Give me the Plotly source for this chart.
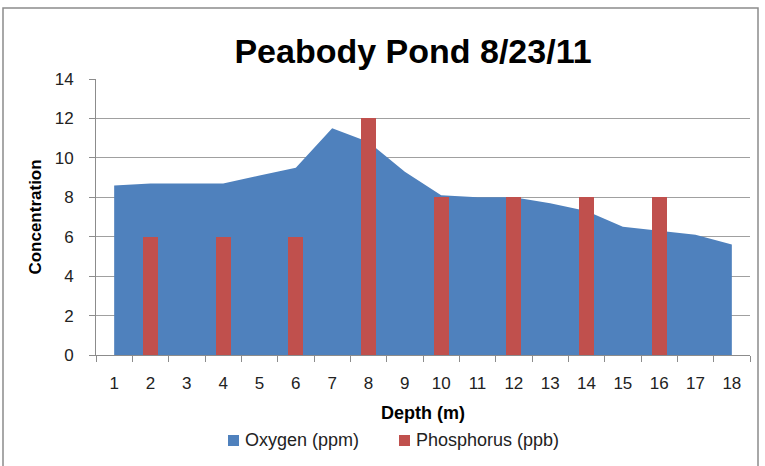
import plotly.graph_objects as go

depth = list(range(1, 19))
oxygen = [8.6, 8.7, 8.7, 8.7, 9.1, 9.5, 11.5, 10.8, 9.3, 8.1, 8.0, 8.0, 7.7, 7.3, 6.5, 6.3, 6.1, 5.6]
phos_depth = [2, 4, 6, 8, 10, 12, 14, 16]
phosphorus = [6, 6, 6, 12, 8, 8, 8, 8]
y_ticks = [0, 2, 4, 6, 8, 10, 12, 14]

BLUE = "#4F81BD"
RED = "#C0504D"
FONT = "Liberation Sans, Arial, sans-serif"

W, H = 765, 466
L, R, T, B = 96, 750, 79, 355

def px(x):
    return (x - L) / (R - L)

def py(y):
    return (B - y) / (B - T)

fig = go.Figure()
fig.add_trace(go.Scatter(x=depth, y=oxygen, fill="tozeroy", mode="lines",
                         line=dict(width=0, color=BLUE), fillcolor=BLUE,
                         name="Oxygen (ppm)", xaxis="x", yaxis="y"))
fig.add_trace(go.Bar(x=phos_depth, y=phosphorus, width=0.42, marker_color=RED,
                     marker_line_width=0, name="Phosphorus (ppb)", xaxis="x2", yaxis="y"))

shapes = [
    dict(type="rect", xref="paper", yref="paper", x0=px(3), x1=px(758), y0=py(475), y1=py(8),
         line=dict(color="#8c8c8c", width=1.5), fillcolor="rgba(0,0,0,0)", layer="below"),
    dict(type="rect", xref="paper", yref="paper", x0=px(228), x1=px(239), y0=py(446), y1=py(435),
         line=dict(width=0), fillcolor=BLUE),
    dict(type="rect", xref="paper", yref="paper", x0=px(399), x1=px(410), y0=py(446), y1=py(435),
         line=dict(width=0), fillcolor=RED),
]
annotations = [
    dict(text="Oxygen (ppm)", xref="paper", yref="paper", x=px(243), y=py(440), xanchor="left",
         yanchor="middle", showarrow=False, font=dict(family=FONT, size=18, color="#222")),
    dict(text="Phosphorus (ppb)", xref="paper", yref="paper", x=px(414), y=py(440), xanchor="left",
         yanchor="middle", showarrow=False, font=dict(family=FONT, size=18, color="#222")),
]

fig.update_layout(
    width=W, height=H,
    margin=dict(l=L, r=W - R, t=T, b=H - B),
    paper_bgcolor="white", plot_bgcolor="white",
    showlegend=False,
    title=dict(text="<b>Peabody Pond 8/23/11</b>", x=413 / W, xanchor="center",
               y=1 - 51 / H, yanchor="middle",
               font=dict(family=FONT, size=34, color="black")),
    shapes=shapes, annotations=annotations,
    xaxis=dict(range=[0.5, 18.5], tickvals=depth, ticktext=[str(d) for d in depth],
               ticks="", showgrid=False, zeroline=False,
               showline=True, linecolor="#8c8c8c", linewidth=1,
               minor=dict(tick0=0.5, dtick=1, ticks="outside", ticklen=6, tickcolor="#8c8c8c"),
               ticklabelstandoff=13,
               tickfont=dict(family=FONT, size=17, color="#222"),
               title=dict(text="<b>Depth (m)</b>", font=dict(family=FONT, size=18, color="black"),
                          standoff=13)),
    xaxis2=dict(range=[0.5, 18.5], overlaying="x", visible=False),
    yaxis=dict(range=[0, 14], tickvals=y_ticks, showgrid=True, gridcolor="#a0a0a0", gridwidth=1,
               zeroline=False, showline=True, linecolor="#8c8c8c", linewidth=1,
               ticks="outside", ticklen=6, tickcolor="#8c8c8c",
               ticklabelstandoff=12,
               tickfont=dict(family=FONT, size=17, color="#222"),
               title=dict(text="<b>Concentration</b>", font=dict(family=FONT, size=17, color="black"),
                          standoff=8)),
    bargap=0,
)

fig.write_html("out.html", config={"displayModeBar": False},
               post_script="document.body.style.margin='0';")
